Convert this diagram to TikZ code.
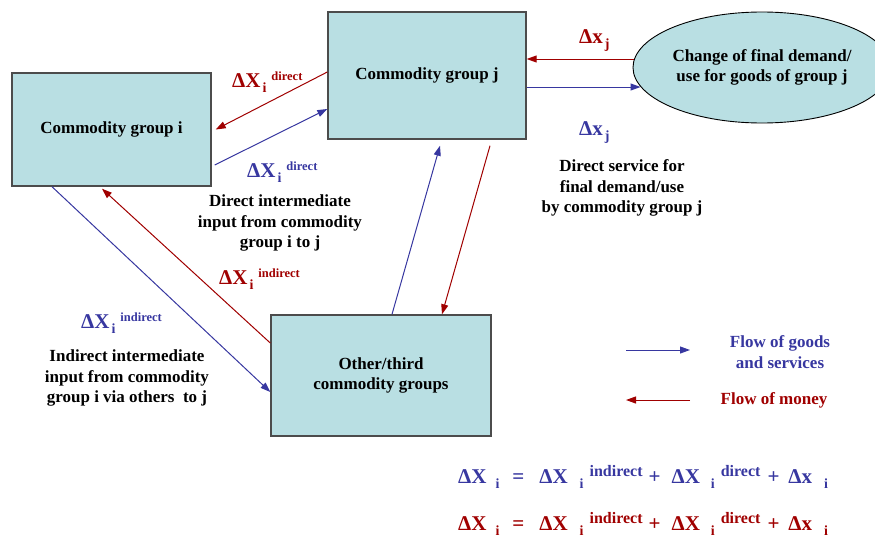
\documentclass[tikz,border=0pt]{standalone}
\usepackage{fontspec}
\setmainfont{Liberation Serif}
\usetikzlibrary{arrows.meta,shapes.geometric}
\definecolor{goods}{RGB}{55,55,160}
\definecolor{money}{RGB}{160,0,0}
\definecolor{boxfill}{RGB}{185,223,227}

\begin{document}
\begin{tikzpicture}[x=1pt,y=-1pt,font=\bfseries\fontsize{17}{20.5}\selectfont,
  box/.style={draw=black!70,line width=1.4pt,fill=boxfill,inner sep=0pt},
  flowg/.style={draw=goods,line width=1pt,-{Triangle[length=10pt,width=7pt]}},
  flowm/.style={draw=money,line width=1pt,-{Triangle[length=10pt,width=7pt]}},
  lab/.style={anchor=base west,inner sep=0pt}]
\useasboundingbox (0,0) rectangle (875,538);
\newcommand{\bigsym}[1]{{\fontsize{21}{24}\selectfont #1}}
\newcommand{\lowi}[1]{\raisebox{-5pt}{\fontsize{14}{16}\selectfont #1}}
\newcommand{\highs}[2]{\raisebox{7pt}{\fontsize{#1}{#1}\selectfont #2}}
\newcommand{\dterm}[3]{\bigsym{Δ#1}\hspace{2pt}\lowi{#2}\hspace{5pt}\highs{12.5}{#3}}
\newcommand{\eqline}{\bigsym{ΔX}\hspace{9pt}\lowi{i}\hspace{13pt}\bigsym{=}\hspace{15pt}%
  \bigsym{ΔX}\hspace{12pt}\lowi{i}\hspace{6pt}\highs{16}{indirect}\hspace{6pt}\bigsym{+}\hspace{11pt}%
  \bigsym{ΔX}\hspace{11pt}\lowi{i}\hspace{6pt}\highs{16}{direct}\hspace{7pt}\bigsym{+}\hspace{9pt}%
  \bigsym{Δx}\hspace{12pt}\lowi{i}}
\node[box,minimum width=199pt,minimum height=113pt] (ci) at (111.5,129.5) {Commodity group i};
\node[box,minimum width=198pt,minimum height=127pt] (cj) at (427,75.5) {Commodity group j};
\node[box,minimum width=220pt,minimum height=121pt,align=center] (co) at (381,375.5) {Other/third\\commodity groups};
\node[box,ellipse,draw=black,line width=0.9pt,minimum width=258pt,minimum height=111pt,align=center] (fd) at (762,67.5) {Change of final demand/\\use for goods of group j};
\draw[flowm] ([yshift=3.5pt]cj.west) -- ([xshift=4pt]ci.east);
\draw[flowg] ([xshift=3pt,yshift=-35.5pt]ci.east) -- ([yshift=-33.5pt]cj.west);
\draw[flowm] ([xshift=1.5pt,yshift=8.5pt]fd.west) -- ([yshift=16.5pt]cj.east);
\draw[flowg] ([yshift=-11.5pt]cj.east) -- ([xshift=8pt,yshift=-19.5pt]fd.west);
\draw[flowg] ([xshift=11pt]co.north) -- ([xshift=13pt,yshift=-6pt]cj.south);
\draw[flowm] ([xshift=63pt,yshift=-6pt]cj.south) -- ([xshift=61pt]co.north);
\draw[flowg] ([xshift=-59.5pt]ci.south) -- ([yshift=-16.5pt]co.west);
\draw[flowm] ([yshift=32.5pt]co.west) -- ([xshift=-9.5pt,yshift=-2pt]ci.south);
\node[lab,text=money] (ldm) at (232,87) {\dterm{X}{i}{direct}};
\node[lab,text=goods] (ldg) at (247,177) {\dterm{X}{i}{direct}};
\node[lab,text=money] (lim) at (219,284) {\dterm{X}{i}{indirect}};
\node[lab,text=goods] (lig) at (81,328) {\dterm{X}{i}{indirect}};
\node[lab,text=money] (ljm) at (579,43) {\dterm{x}{j}{}};
\node[lab,text=goods] (ljg) at (579,135) {\dterm{x}{j}{}};
\node[align=center] (tdir) at (280,223) {Direct intermediate\\input from commodity\\group i to j};
\node[align=center] (tind) at (127,378) {Indirect intermediate\\input from commodity\\group i via others\ \ to j};
\node[align=center] (tsvc) at (622,188) {Direct service for\\final demand/use\\by commodity group j};
\coordinate (g1) at (626,350);
\coordinate (g2) at (690,350);
\coordinate (m1) at (690,400);
\coordinate (m2) at (626,400);
\draw[flowg] (g1) -- (g2);
\draw[flowm] (m1) -- (m2);
\node[text=goods,align=center] (lgg) at (780,352) {Flow of goods\\and services};
\node[text=money] (lgm) at (774,400) {Flow of money};
\node[lab,text=goods] (eqg) at (458,483) {\eqline};
\node[lab,text=money] (eqm) at (458,530) {\eqline};
\end{tikzpicture}
\end{document}
